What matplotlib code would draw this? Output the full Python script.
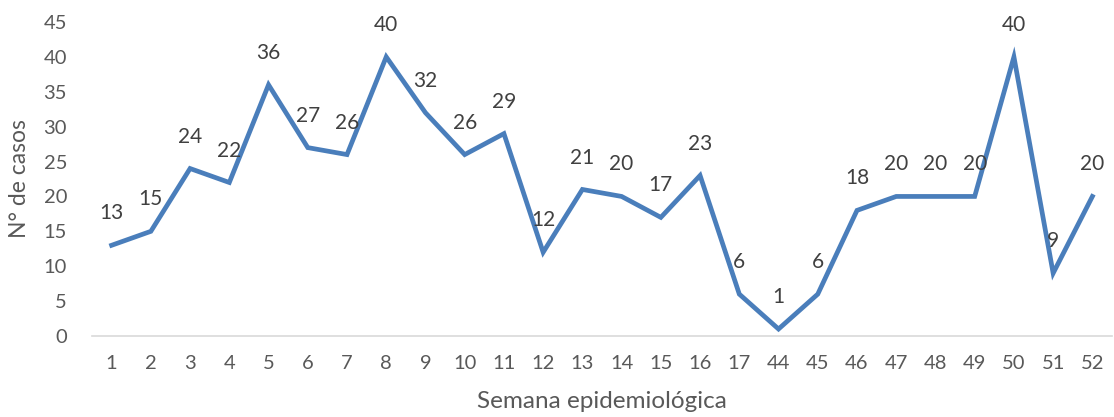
import matplotlib
matplotlib.use("Agg")
import matplotlib.pyplot as plt

semanas = ["1","2","3","4","5","6","7","8","9","10","11","12","13","14","15","16","17",
           "44","45","46","47","48","49","50","51","52"]
casos = [13,15,24,22,36,27,26,40,32,26,29,12,21,20,17,23,6,1,6,18,20,20,20,40,9,20]

plt.rcParams['font.family'] = ['Lato', 'DejaVu Sans']

fig = plt.figure(figsize=(11.14, 4.17), dpi=100)
ax = fig.add_axes([92/1114, 1-336/417, 1020/1114, 314/417])

x = list(range(len(semanas)))
ax.plot(x, casos, color='#4a7ebb', lw=3.4, solid_joinstyle='miter', clip_on=False)
for xi, v in zip(x, casos):
    ax.annotate(str(v), (xi, v), xytext=(0, 23), textcoords='offset points',
                ha='center', va='center', fontsize=15, color='#404040')

ax.set_xlim(-0.5, len(semanas)-0.5)
ax.set_ylim(0, 45)
ax.set_yticks(range(0, 46, 5))
ax.set_xticks(x)
ax.set_xticklabels(semanas)
ax.tick_params(axis='both', length=0, labelsize=14.5, labelcolor='#595959')
ax.tick_params(axis='x', pad=14)
ax.tick_params(axis='y', pad=18)
for s in ['top', 'right', 'left']:
    ax.spines[s].set_visible(False)
ax.spines['bottom'].set_color('#d9d9d9')
ax.spines['bottom'].set_linewidth(1.2)
ax.set_xlabel('Semana epidemiológica', fontsize=17.5, color='#595959', labelpad=13)
ax.set_ylabel('N° de casos', fontsize=16.5, color='#595959', labelpad=10)

fig.savefig('out.png', dpi=100)
